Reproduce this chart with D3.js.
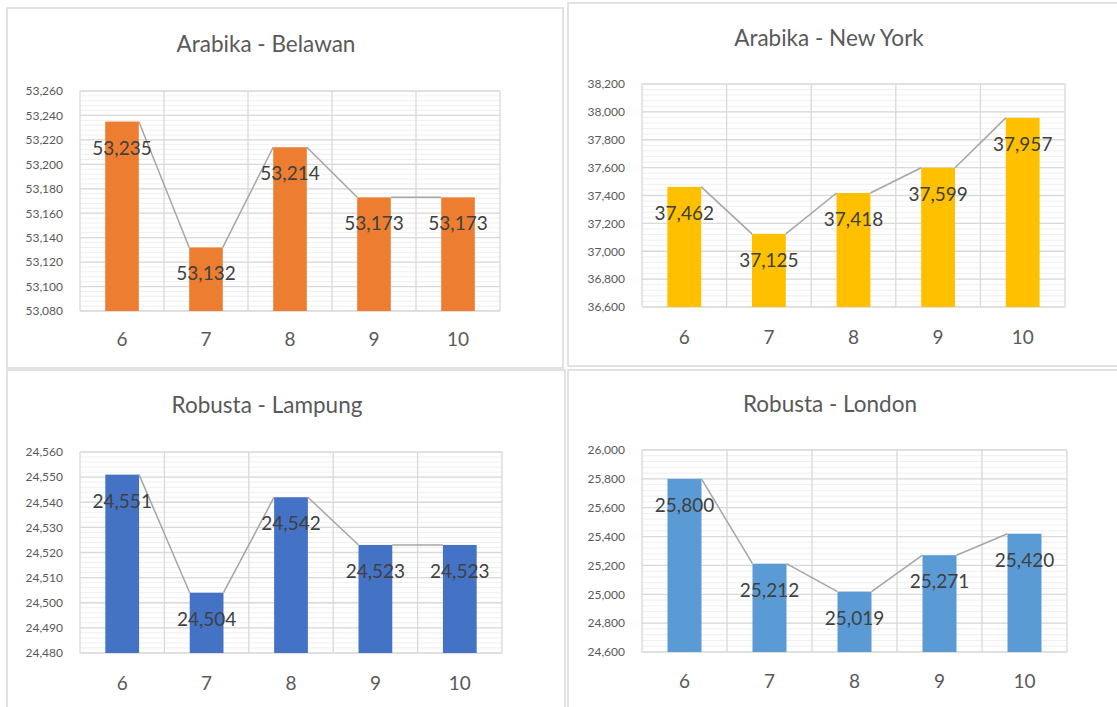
<!DOCTYPE html>
<html>
<head>
<meta charset="utf-8">
<script src="https://cdn.jsdelivr.net/npm/d3@7"></script>
<style>
  html, body { margin: 0; padding: 0; background: #fff; }
  svg { display: block; font-family: Lato, "Open Sans", sans-serif; }
</style>
</head>
<body>
<svg id="chart" width="1117" height="707"></svg>
<script>
// data
const months = ["6", "7", "8", "9", "10"];
const titles = ["Arabika - Belawan", "Arabika - New York", "Robusta - Lampung", "Robusta - London"];
const belawan = [53235, 53132, 53214, 53173, 53173];
const newYork = [37462, 37125, 37418, 37599, 37957];
const lampung = [24551, 24504, 24542, 24523, 24523];
const london = [25800, 25212, 25019, 25271, 25420];
const belawanTicks = [53080, 53260, 20];
const newYorkTicks = [36600, 38200, 200];
const lampungTicks = [24480, 24560, 10];
const londonTicks = [24600, 26000, 200];
const barColors = ["#ed7d31", "#ffc000", "#4472c4", "#5b9bd5"];

const svg = d3.select("#chart");

// panel frame + plot area for each chart
const panels = [
  { box: [7, 8, 556, 360], plot: [80, 91, 500, 311], title: [266, 52], xlab: 339 },
  { box: [568, 3, 552, 363], plot: [642, 84, 1065, 307], title: [829, 46], xlab: 337 },
  { box: [7, 370, 558, 340], plot: [80, 452, 502, 653], title: [267, 413], xlab: 683 },
  { box: [568, 370, 552, 340], plot: [642, 450, 1067, 652], title: [830, 412], xlab: 681 }
];
const series = [belawan, newYork, lampung, london];
const ticks = [belawanTicks, newYorkTicks, lampungTicks, londonTicks];

/** draws one excel-style column chart with series lines */
function drawPanel(idx) {
  const p = panels[idx];
  const values = series[idx];
  const [lo, hi, step] = ticks[idx];
  const [x0, y0, x1, y1] = p.plot;
  const g = svg.append("g");

  g.append("rect")
    .attr("x", p.box[0]).attr("y", p.box[1])
    .attr("width", p.box[2]).attr("height", p.box[3])
    .attr("fill", "#fff").attr("stroke", "#d9d9d9").attr("stroke-width", 1.5);

  const x = d3.scaleBand().domain(months).range([x0, x1]).paddingInner(0.6).paddingOuter(0.3);
  const y = d3.scaleLinear().domain([lo, hi]).range([y1, y0]);

  // minor gridlines
  const minor = d3.range(lo, hi + step / 10, step / 5);
  g.selectAll("line.minor").data(minor).enter().append("line")
    .attr("x1", x0).attr("x2", x1)
    .attr("y1", d => y(d)).attr("y2", d => y(d))
    .attr("stroke", "#efefef").attr("stroke-width", 1);

  // major gridlines
  const major = d3.range(lo, hi + step / 2, step);
  g.selectAll("line.major").data(major).enter().append("line")
    .attr("x1", x0).attr("x2", x1)
    .attr("y1", d => y(d)).attr("y2", d => y(d))
    .attr("stroke", "#d9d9d9").attr("stroke-width", 1.3);

  // vertical gridlines at category edges
  const edges = d3.range(months.length + 1).map(i => x0 + i * x.step());
  g.selectAll("line.vert").data(edges).enter().append("line")
    .attr("x1", d => d).attr("x2", d => d)
    .attr("y1", y0).attr("y2", y1)
    .attr("stroke", "#d9d9d9").attr("stroke-width", 1.3);

  // y axis labels
  const yAxis = d3.axisLeft(y).tickValues(major).tickFormat(d3.format(",")).tickSize(0).tickPadding(17);
  const ya = g.append("g").attr("transform", "translate(" + x0 + ",0)").call(yAxis);
  ya.select(".domain").remove();
  ya.selectAll("text").attr("fill", "#595959").style("font-size", "12px").style("font-family", "Lato, sans-serif");

  // bars
  g.selectAll("rect.bar").data(values).enter().append("rect")
    .attr("x", (d, i) => x(months[i]))
    .attr("y", d => y(d))
    .attr("width", x.bandwidth())
    .attr("height", d => y1 - y(d))
    .attr("fill", barColors[idx]);

  // series lines: right top of one bar to left top of next
  const segs = values.slice(1).map((d, i) => [i, i + 1]);
  g.selectAll("line.series").data(segs).enter().append("line")
    .attr("x1", d => x(months[d[0]]) + x.bandwidth())
    .attr("y1", d => y(values[d[0]]))
    .attr("x2", d => x(months[d[1]]))
    .attr("y2", d => y(values[d[1]]))
    .attr("stroke", "#a5a5a5").attr("stroke-width", 1.5);

  // data labels
  g.selectAll("text.val").data(values).enter().append("text")
    .attr("x", (d, i) => x(months[i]) + x.bandwidth() / 2)
    .attr("y", d => y(d) + 33)
    .attr("text-anchor", "middle")
    .attr("fill", "#404040")
    .style("font-size", "19px")
    .text(d => d3.format(",")(d));

  // x labels
  g.selectAll("text.cat").data(months).enter().append("text")
    .attr("x", d => x(d) + x.bandwidth() / 2)
    .attr("y", p.xlab)
    .attr("dy", "0.35em")
    .attr("text-anchor", "middle")
    .attr("fill", "#595959")
    .style("font-size", "19px")
    .text(d => d);

  // title
  g.append("text")
    .attr("x", p.title[0]).attr("y", p.title[1])
    .attr("text-anchor", "middle")
    .attr("fill", "#595959")
    .style("font-size", "22.5px")
    .text(titles[idx]);
}

[0, 1, 2, 3].forEach(drawPanel);
</script>
</body>
</html>
